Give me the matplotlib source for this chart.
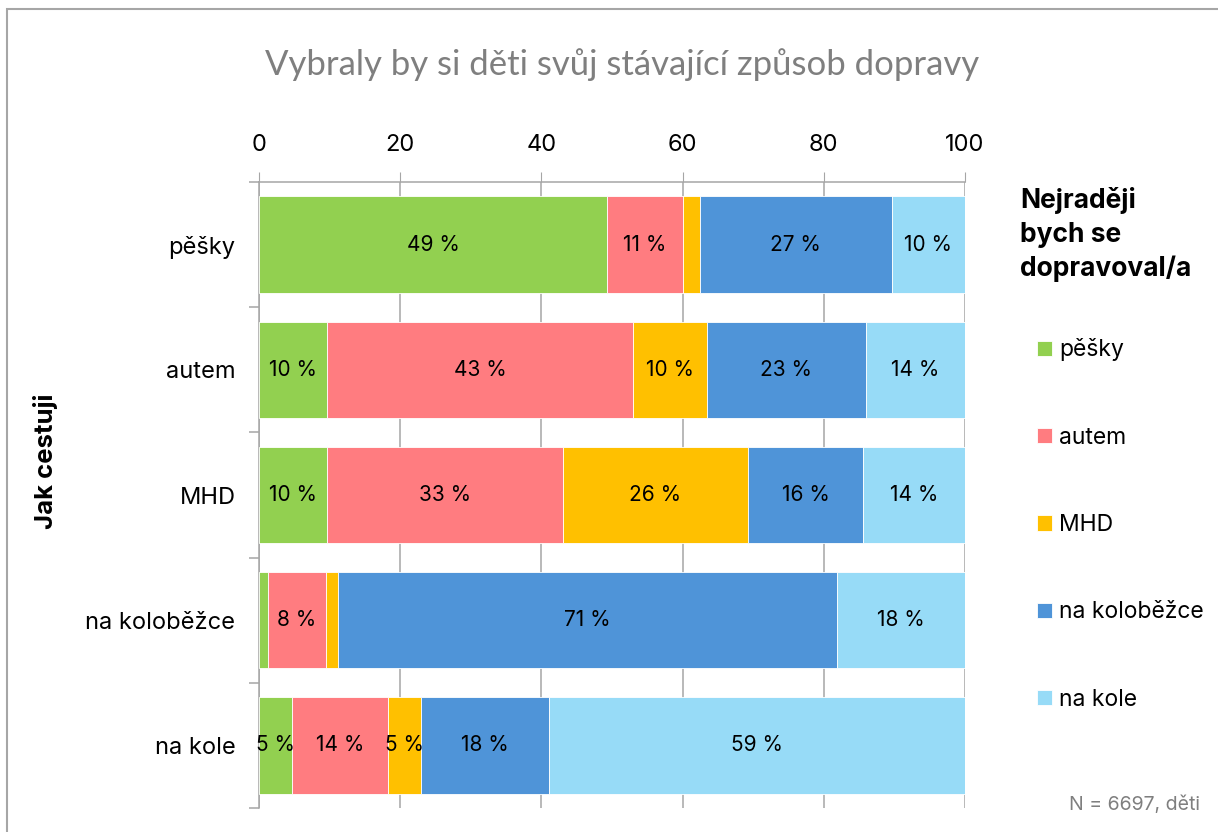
import matplotlib.pyplot as plt
import numpy as np
from matplotlib.patches import Rectangle

# ----------------------------------------------------------
# data
# ----------------------------------------------------------
kategorie = ["pěšky", "autem", "MHD", "na koloběžce", "na kole"]
preference = ["pěšky", "autem", "MHD", "na koloběžce", "na kole"]

# rows = jak cestuji, columns = nejraději bych se dopravoval/a (%)
pesky = [49.3, 10.8, 2.3, 27.2, 10.4]
autem = [9.6, 43.4, 10.4, 22.6, 14.0]
mhd = [9.6, 33.4, 26.2, 16.4, 14.4]
kolobezka = [1.3, 8.2, 1.7, 70.6, 18.2]
kolo = [4.7, 13.6, 4.7, 18.1, 58.9]

barvy = ["#92D050", "#FF7C80", "#FFC000", "#4F94D8", "#97DBF7"]

plt.rcParams['font.family'] = ['Inter', 'DejaVu Sans']

tabulka = np.array([pesky, autem, mhd, kolobezka, kolo])

fig = plt.figure(figsize=(12.18, 8.32), dpi=100)
ax = fig.add_axes([259/1218, 1-808/832, (965-259)/1218, (808-182)/832])

y = np.arange(len(kategorie))
left = np.zeros(len(kategorie))

handles = []
for j, nazev in enumerate(preference):
    hodnoty = tabulka[:, j]
    bars = ax.barh(y, hodnoty, left=left, height=0.77, color=barvy[j],
                   edgecolor="white", linewidth=0.6, zorder=3, label=nazev)
    handles.append(bars)
    for i, v in enumerate(hodnoty):
        if v >= 3:
            ax.text(left[i] + v/2, y[i], f"{round(v)} %", ha='center', va='center',
                    fontsize=15, color='black', zorder=4)
    left += hodnoty

ax.set_xlim(0, 100)
ax.set_ylim(len(kategorie) - 0.5, -0.5)

ax.xaxis.tick_top()
ax.set_xticks([0, 20, 40, 60, 80, 100])
ax.tick_params(axis='x', which='major', length=7, color='#A6A6A6', labelsize=17,
               pad=12, labelcolor='black')
ax.grid(axis='x', color='#A6A6A6', linewidth=1.1, zorder=0)

ax.set_yticks(y)
ax.set_yticklabels(kategorie)
ax.set_yticks(np.arange(len(kategorie)+1) - 0.5, minor=True)
ax.tick_params(axis='y', which='major', length=0, labelsize=17, pad=17)
ax.tick_params(axis='y', which='minor', length=7, color='#A6A6A6', width=1.1)

for s in ['bottom', 'right']:
    ax.spines[s].set_visible(False)
for s in ['top', 'left']:
    ax.spines[s].set_color('#A6A6A6')
    ax.spines[s].set_linewidth(1.1)

# ----------------------------------------------------------
# texts
# ----------------------------------------------------------
fig.text(0.511, 0.922, "Vybraly by si děti svůj stávající způsob dopravy",
         ha='center', va='center', fontsize=25, color='#7F7F7F', family=['Lato', 'DejaVu Sans'])

fig.text(0.037, 0.445, "Jak cestuji", rotation=90, ha='center', va='center',
         fontsize=18.5, fontweight='bold')

fig.text(1020/1218, 1-187/832, "Nejraději\nbych se\ndopravoval/a", ha='left', va='top',
         fontsize=19, fontweight='bold', linespacing=1.38)

fig.text(1200/1218, 1-805/832, "N = 6697, děti", ha='right', va='center',
         fontsize=14, color='#7F7F7F')

leg = fig.legend(handles=handles, labels=preference, loc='upper left',
                 bbox_to_anchor=(1026/1218, 1-327/832), frameon=False, fontsize=16.5,
                 handlelength=0.65, handleheight=0.65, handletextpad=0.3,
                 labelspacing=2.85, borderpad=0)

# border around figure
fig.patches.append(Rectangle((7/1218, -0.05), 1.1, 1-9/832+0.05, transform=fig.transFigure,
                             fill=False, edgecolor='#A6A6A6', linewidth=1.5))

fig.savefig("out.png", dpi=100)
